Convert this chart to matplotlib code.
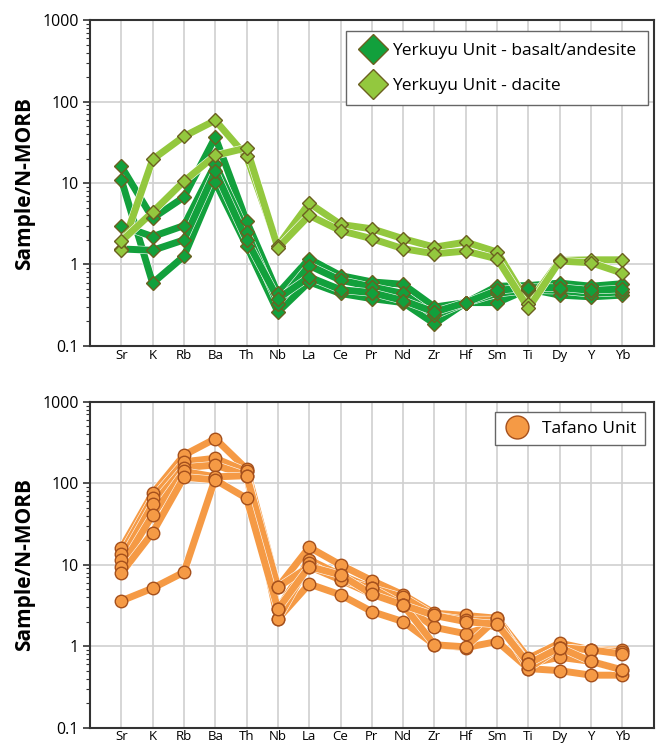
import numpy as np
import matplotlib
matplotlib.use("Agg")
import matplotlib.pyplot as plt
import matplotlib.patheffects as pe
from matplotlib.lines import Line2D

plt.rcParams['font.family'] = ['Open Sans', 'DejaVu Sans']

elements = ['Sr', 'K', 'Rb', 'Ba', 'Th', 'Nb', 'La', 'Ce', 'Pr', 'Nd',
            'Zr', 'Hf', 'Sm', 'Ti', 'Dy', 'Y', 'Yb']

# Yerkuyu Unit - basalt/andesite
basalt = [
    [16.0, 3.7, 6.7, 36.6, 3.4, 0.44, 1.17, 0.73, 0.61, 0.57, 0.30, 0.34, 0.54, 0.55, 0.59, 0.54, 0.58],
    [11.0, 0.59, 1.26, 10.3, 1.7, 0.26, 0.61, 0.44, 0.38, 0.34, 0.187, 0.34, 0.34, 0.50, 0.42, 0.40, 0.42],
    [3.0, 2.2, 3.0, 17.0, 2.5, 0.33, 0.97, 0.64, 0.53, 0.44, 0.236, 0.34, 0.44, 0.49, 0.48, 0.44, 0.46],
    [1.55, 1.49, 2.0, 14.0, 2.0, 0.38, 0.70, 0.49, 0.45, 0.36, 0.26, 0.34, 0.48, 0.52, 0.52, 0.48, 0.50],
]

# Yerkuyu Unit - dacite
dacite = [
    [1.51, 19.5, 37.4, 58.8, 21.2, 1.7, 5.66, 3.1, 2.74, 2.07, 1.63, 1.88, 1.42, 0.33, 1.12, 1.14, 1.14],
    [1.93, 4.4, 10.5, 21.8, 27.0, 1.6, 4.0, 2.6, 2.07, 1.56, 1.35, 1.46, 1.17, 0.29, 1.10, 1.05, 0.78],
]

# Tafano Unit
tafano = [
    [3.6, 5.15, 8.1, 115, 140, 2.16, 5.8, 4.27, 2.66, 2.0, 1.04, 0.96, 1.14, 0.53, 0.50, 0.44, 0.44],
    [15.9, 75, 222, 353, 150, 5.3, 16.4, 9.95, 6.4, 4.27, 2.54, 2.38, 2.2, 0.71, 1.09, 0.90, 0.90],
    [13.6, 65.5, 184, 203, 140, 2.85, 11.5, 7.5, 5.15, 4.0, 2.38, 2.1, 2.1, 0.61, 0.96, 0.90, 0.85],
    [11.5, 55, 156, 168, 124, 2.16, 10.4, 6.5, 4.35, 3.2, 1.7, 1.42, 1.86, 0.61, 0.73, 0.65, 0.51],
    [9.5, 40.8, 140, 120, 124, 5.3, 9.5, 6.5, 5.15, 3.2, 1.04, 0.98, 2.2, 0.53, 0.96, 0.90, 0.80],
    [7.9, 24.8, 119, 110, 65.5, 2.85, 9.5, 7.5, 4.35, 3.2, 2.38, 2.0, 1.86, 0.61, 0.96, 0.65, 0.51],
]

dark_green = '#12a03c'
light_green = '#93c83e'
green_edge = '#6b6020'
orange = '#f59a45'
orange_edge = '#a5501c'

x = np.arange(len(elements))


def draw_group(ax, data, color, marker, ms, edge):
    for row in data:
        ax.plot(x, row, color=color, lw=5, solid_joinstyle='round',
                path_effects=[pe.Stroke(linewidth=5.8, foreground='white'), pe.Normal()],
                zorder=2)
    for row in data:
        ax.plot(x, row, ls='none', marker=marker, ms=ms, mfc=color,
                mec=edge, mew=1.0, zorder=3)


def style_axes(ax):
    ax.set_yscale('log')
    ax.set_ylim(0.1, 1000)
    ax.set_xlim(-1.0, 17.0)
    ax.set_xticks(x)
    ax.set_xticklabels(elements, fontsize=9.5)
    ax.set_yticks([0.1, 1, 10, 100, 1000])
    ax.set_yticklabels(['0.1', '1', '10', '100', '1000'], fontsize=11.5)
    ax.yaxis.set_minor_locator(matplotlib.ticker.LogLocator(base=10, subs=np.arange(2, 10)))
    ax.yaxis.set_minor_formatter(matplotlib.ticker.NullFormatter())
    ax.tick_params(axis='x', length=0, pad=2)
    ax.tick_params(axis='y', which='major', length=5, width=1.2, color='#333333', pad=3)
    ax.tick_params(axis='y', which='minor', length=3, width=0.8, color='#333333')
    ax.grid(True, which='major', color='#d0d0d0', lw=1.2)
    ax.set_axisbelow(True)
    for s in ax.spines.values():
        s.set_color('#333333')
        s.set_linewidth(1.5)
    ax.set_ylabel('Sample/N-MORB', fontsize=15, fontweight='bold', labelpad=5)


fig = plt.figure(figsize=(6.57, 7.47), dpi=100)
ax1 = fig.add_axes([0.137, 0.537, 0.858, 0.436])
ax2 = fig.add_axes([0.137, 0.026, 0.858, 0.436])

style_axes(ax1)
draw_group(ax1, basalt, dark_green, 'D', 7.2, green_edge)
draw_group(ax1, dacite, light_green, 'D', 7.2, green_edge)
h1 = [Line2D([], [], ls='none', marker='D', ms=15, mfc=dark_green, mec=green_edge, mew=1.0),
      Line2D([], [], ls='none', marker='D', ms=15, mfc=light_green, mec=green_edge, mew=1.0)]
leg1 = ax1.legend(h1, ['Yerkuyu Unit - basalt/andesite', 'Yerkuyu Unit - dacite'],
                  loc='upper right', bbox_to_anchor=(0.989, 0.966), borderaxespad=0,
                  fontsize=12.5, fancybox=False, framealpha=1, edgecolor='#666666',
                  handletextpad=0.2, handlelength=1.8, labelspacing=1.1, borderpad=0.65)
leg1.get_frame().set_linewidth(1.0)

style_axes(ax2)
draw_group(ax2, tafano, orange, 'o', 9, orange_edge)
h2 = [Line2D([], [], ls='none', marker='o', ms=16.5, mfc=orange, mec=orange_edge, mew=1.0)]
leg2 = ax2.legend(h2, ['Tafano Unit'], loc='upper right', bbox_to_anchor=(0.984, 0.969),
                  borderaxespad=0, fontsize=12.5, fancybox=False, framealpha=1,
                  edgecolor='#666666', handletextpad=0.6, handlelength=1.6, borderpad=0.5)
leg2.get_frame().set_linewidth(1.0)

fig.savefig('out.png', dpi=100)
